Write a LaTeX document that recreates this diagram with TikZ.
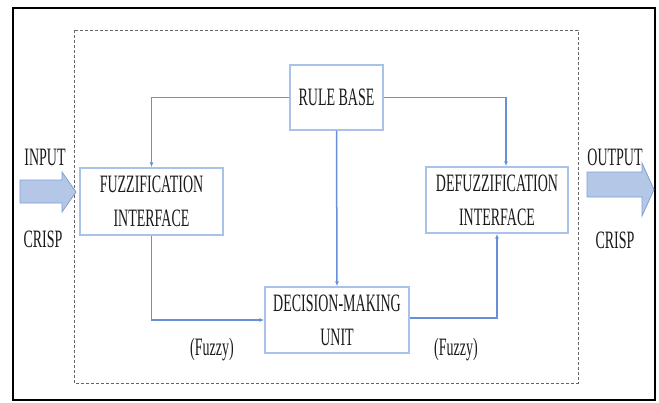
\documentclass[tikz,border=0pt]{standalone}
\usepackage{fontspec}
\setmainfont{Liberation Serif}
\usetikzlibrary{arrows.meta,calc}
\definecolor{boxblue}{HTML}{A9C2EA}
\definecolor{linkblue}{HTML}{6690D8}
\definecolor{arrfill}{HTML}{B4C7E7}
\definecolor{arrdraw}{HTML}{7F9FD6}
\definecolor{txt}{HTML}{1A1A1A}
\newcommand{\sq}[1]{\scalebox{0.56}[1]{#1}}
\tikzset{
  box/.style={draw=boxblue, line width=1.4pt, fill=white, inner sep=0pt,
    align=center, text=txt, font=\fontsize{25}{34}\selectfont},
  lbl/.style={inner sep=0pt, text=txt, font=\fontsize{25}{34}\selectfont},
  link/.style={draw=linkblue, line width=1.5pt},
  linkarr/.style={link, -{Latex[length=5pt,width=4pt]}},
  bigarrow/.style={fill=arrfill, draw=arrdraw, line width=0.8pt, line join=miter}
}
\begin{document}
\begin{tikzpicture}[x=1pt,y=-1pt]
\useasboundingbox (0,0) rectangle (659,402);
% outer frame
\draw[black, line width=1.8pt] (13,8) rectangle (655,400);
% dashed system boundary
\draw[gray!80!black, line width=0.9pt, dash pattern=on 3pt off 2pt] (74,30) rectangle (578,383);
% boxes
\node[box, minimum width=93pt, minimum height=65pt] (rule) at (336.5,97.5) {\sq{RULE BASE}};
\node[box, minimum width=143pt, minimum height=67pt] (fuzz) at (151.5,201.5) {\sq{FUZZIFICATION}\\\sq{INTERFACE}};
\node[box, minimum width=142pt, minimum height=66pt] (defuzz) at (497,200) {\sq{DEFUZZIFICATION}\\\sq{INTERFACE}};
\node[box, minimum width=144pt, minimum height=66pt] (dmu) at (337,320) {\sq{DECISION-MAKING}\\\sq{UNIT}};
% connectors
\draw[linkarr] (rule.west) -| (fuzz.north);
\draw[linkarr] (rule.east) -| ([xshift=9pt]defuzz.north);
\draw[linkarr] (rule.south) -- (dmu.north);
\draw[linkarr] (fuzz.south) |- (dmu.west);
\draw[linkarr] ([yshift=2pt]dmu.east) -| (defuzz.south);
% labels
\node[lbl] (fz1) at (212,350) {\sq{(Fuzzy)}};
\node[lbl] (fz2) at (456,350) {\sq{(Fuzzy)}};
\node[lbl] (inp) at (45,157) {\sq{INPUT}};
\node[lbl] (crispin) at (43,239) {\sq{CRISP}};
\node[lbl] (outp) at (615,157) {\sq{OUTPUT}};
\node[lbl] (crispout) at (615,240) {\sq{CRISP}};
% block arrows
\draw[bigarrow] (20,180) -- (62,180) -- (62,172) -- (76,192) -- (62,212) -- (62,203) -- (20,203) -- cycle;
\draw[bigarrow] (587,172) -- (642,172) -- (642,163) -- (654,189.5) -- (642,216) -- (642,197) -- (587,197) -- cycle;
\end{tikzpicture}
\end{document}
